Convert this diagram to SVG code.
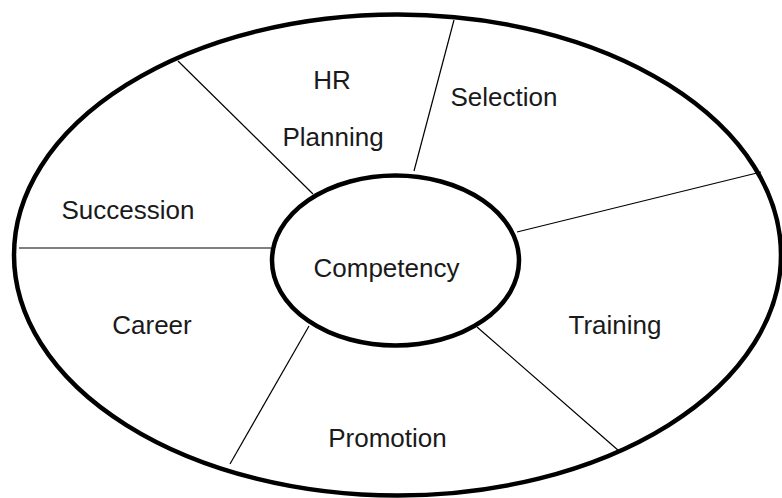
<svg xmlns="http://www.w3.org/2000/svg" width="782" height="498" viewBox="0 0 782 498">
<style>
.ring{fill:none;stroke:#000;stroke-width:4.5}
.hub{fill:#fff;stroke:#000;stroke-width:4.5}
.div{stroke:#000;stroke-width:1.2;fill:none}
text{font-family:"Liberation Sans",Arial,sans-serif;font-size:26px;fill:#1a1a1a;text-anchor:middle}
</style>
<rect width="782" height="498" fill="#fff"/>
<g id="outer"><ellipse class="ring" cx="397.5" cy="255" rx="383.5" ry="240.5"/></g>
<g id="connectors">
<line class="div" x1="178" y1="61" x2="313" y2="194"/>
<line class="div" x1="454" y1="20" x2="414" y2="171"/>
<line class="div" x1="517" y1="232" x2="761" y2="172"/>
<line class="div" x1="477" y1="327" x2="619" y2="451"/>
<line class="div" x1="309" y1="326" x2="230" y2="464"/>
<line class="div" x1="19" y1="248" x2="271" y2="248"/>
</g>
<g id="hr-planning"><text x="332" y="89">HR</text><text x="333" y="146">Planning</text></g>
<g id="selection"><text x="504" y="106">Selection</text></g>
<g id="succession"><text x="128" y="219">Succession</text></g>
<g id="career"><text x="152" y="334">Career</text></g>
<g id="promotion"><text x="387.5" y="447">Promotion</text></g>
<g id="training"><text x="615" y="334">Training</text></g>
<g id="competency"><ellipse class="hub" cx="395.5" cy="260.5" rx="123.5" ry="85"/><text x="386.5" y="277">Competency</text></g>
</svg>
